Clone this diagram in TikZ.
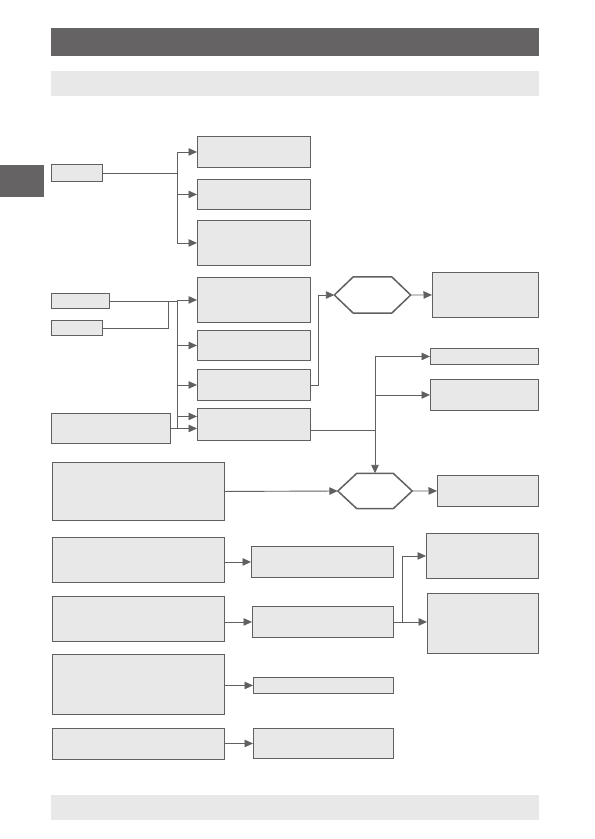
\documentclass[tikz,border=0pt]{standalone}
\usetikzlibrary{positioning,arrows.meta,calc}
\definecolor{BarDark}{RGB}{101,99,99}
\definecolor{BoxFill}{RGB}{232,232,232}
\definecolor{LineGray}{RGB}{96,96,96}
\begin{document}
\begin{tikzpicture}[
    x=1pt, y=-1pt,
    bar/.style={rectangle, fill=#1, draw=none, anchor=north west, inner sep=0pt},
    blk/.style={rectangle, fill=BoxFill, draw=LineGray, line width=0.9pt,
        anchor=north west, inner sep=0pt},
    sz/.style 2 args={minimum width=#1pt, minimum height=#2pt},
    hexa/.style={rectangle, draw=none, inner sep=0pt},
    hexline/.style={draw=LineGray, fill=white, line width=1.5pt, line join=round},
    link/.style={LineGray, line width=0.9pt},
    flow/.style={-{Triangle[length=8.5pt, width=7.5pt]}, LineGray, line width=0.9pt},
]
\useasboundingbox (0,0) rectangle (595,839);

% page bars
\node[bar=BarDark, sz={488}{28}] (head) at (51,28) {};
\node[bar=BoxFill, sz={488}{25}] (subhead) at (51,71) {};
\node[bar=BarDark, sz={44}{32}] (tab) at (0,165) {};
\node[bar=BoxFill, sz={488}{25}] (foot) at (51,795) {};

% first group
\node[blk, sz={51}{17}] (src) at (51,164) {};
\node[blk, sz={113}{31}] (out1) at (197,136) {};
\node[blk, sz={113}{30}] (out2) at (197,179) {};
\node[blk, sz={113}{45}] (out3) at (197,220) {};

% second group
\node[blk, sz={58}{15}] (inA) at (51,293) {};
\node[blk, sz={51}{15}] (inB) at (51,320) {};
\node[blk, sz={119}{30}] (inC) at (51,413) {};
\node[blk, sz={113}{45}] (mid1) at (197,277) {};
\node[blk, sz={113}{30}] (mid2) at (197,330) {};
\node[blk, sz={113}{31}] (mid3) at (197,369) {};
\node[blk, sz={113}{32}] (mid4) at (197,408) {};

\node[hexa, sz={76}{36}] (hexA) at (372.5,295) {};
\node[blk, sz={106}{45}] (resA) at (432,272) {};
\node[blk, sz={108}{16}] (resB) at (430,348) {};
\node[blk, sz={108}{31}] (resC) at (430,379) {};

% lower group
\node[blk, sz={172}{58}] (big1) at (52,462) {};
\node[hexa, sz={74}{35}] (hexB) at (375,491) {};
\node[blk, sz={101}{31}] (resD) at (437,475) {};
\node[blk, sz={172}{45}] (big2) at (52,537) {};
\node[blk, sz={172}{45}] (big3) at (52,596) {};
\node[blk, sz={142}{31}] (sub1) at (251,546) {};
\node[blk, sz={141}{31}] (sub2) at (252,606) {};
\node[blk, sz={112}{45}] (resE) at (426,533) {};
\node[blk, sz={111}{60}] (resF) at (427,593) {};
\node[blk, sz={172}{60}] (big4) at (52,654) {};
\node[blk, sz={140}{16}] (sub3) at (253,677) {};
\node[blk, sz={172}{31}] (big5) at (52,728) {};
\node[blk, sz={140}{30}] (sub4) at (253,728) {};

% hexagon outlines
\foreach \h in {hexA,hexB} {
  \draw[hexline] (\h.west) -- ($(\h.north west)+(19,0)$) -- ($(\h.north east)+(-19,0)$)
    -- (\h.east) -- ($(\h.south east)+(-19,0)$) -- ($(\h.south west)+(19,0)$) -- cycle;
}

% buses
\coordinate (bus1) at (177,0);
\coordinate (bus2) at (177,0);
\coordinate (join) at (168,0);
\coordinate (bus3) at (hexB.north);

\draw[link] (src.east) -- (src.east -| bus1);
\draw[link] (bus1 |- out1.west) -- (bus1 |- out3.west);
\foreach \t in {out1,out2,out3}
  \draw[flow] (bus1 |- \t.west) -- (\t.west);

\draw[link] (inA.east) -- (inA.east -| bus2);
\draw[link] (inB.east) -| (inA.east -| join);
\draw[link] (bus2 |- mid1.west) -- (bus2 |- inC.east);
\draw[flow] (bus2 |- mid1.west) -- (mid1.west);
\draw[flow] (bus2 |- mid2.west) -- (mid2.west);
\draw[flow] (bus2 |- mid3.west) -- (mid3.west);
\draw[flow] ($(bus2 |- mid4.west)+(0,-8)$) -- ($(mid4.west)+(0,-8)$);
\draw[flow] (inC.east) -- (inC.east -| mid4.west);

\draw[flow] (mid3.east) -- ++(8,0) |- (hexA.west);
\draw[flow] (hexA.east) -- (resA.west);

\draw[link] ($(mid4.east)+(0,6)$) -| (bus3 |- resC.west);
\draw[flow] (bus3 |- resB.west) -- (hexB.north);
\draw[flow] (bus3 |- resB.west) -- (resB.west);
\draw[flow] (bus3 |- resC.west) -- (resC.west);

\draw[flow] (big1.east) -- (hexB.west);
\draw[flow] (hexB.east) -- (resD.west);
\draw[flow] (big2.east |- sub1.west) -- (sub1.west);
\draw[flow] (big3.east |- sub2.west) -- (sub2.west);
\draw[flow] (sub2.east) -- ++(9,0) |- (resE.west);
\draw[flow] (sub2.east) -- (sub2.east -| resF.west);
\draw[flow] (big4.east |- sub3.west) -- (sub3.west);
\draw[flow] (big5.east |- sub4.west) -- (sub4.west);
\end{tikzpicture}
\end{document}
